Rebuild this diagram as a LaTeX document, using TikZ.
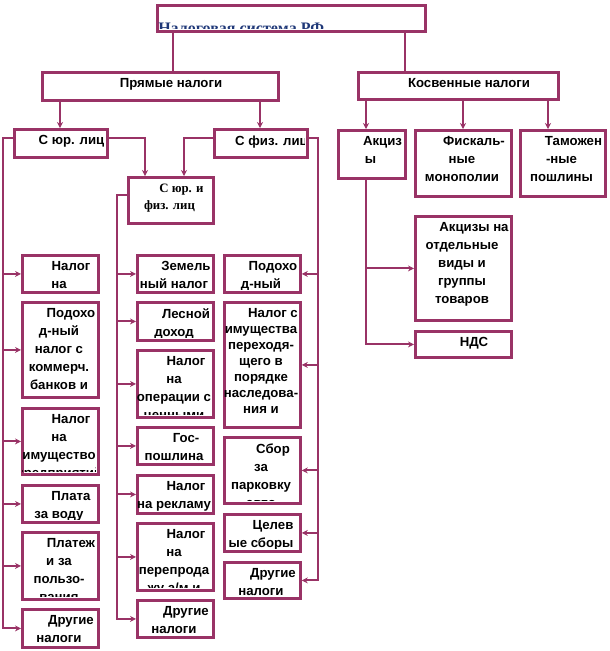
\documentclass[tikz,border=0pt]{standalone}
\usepackage{fontspec}
\setmainfont{Liberation Sans}
\newfontfamily\serifb{Liberation Serif}
\usetikzlibrary{arrows.meta,calc}
\definecolor{plum}{RGB}{153,51,102}
\definecolor{titleblue}{RGB}{31,56,120}
\newcommand\ind{\hspace*{18pt}}
\tikzset{
  boxst/.style={draw=plum, line width=2.1pt, fill=white, inner sep=0pt, rectangle},
  txt/.style={anchor=north, inner sep=0pt, align=center, text=black,
              font=\bfseries\fontsize{9.9pt}{13.5pt}\selectfont},
  conn/.style={draw=plum, line width=1.5pt},
  arr/.style={conn, -{Stealth[length=4.5pt,width=4.5pt]}}
}
% name, x1, y1, x2, y2, text
\newcommand\taxbox[7][]{%
  \node[boxst, minimum width={(#5-#3)*0.75pt}, minimum height={(#6-#4)*0.75pt}, anchor=north west] (#2) at (#3,#4) {};
  \begin{scope}
    \clip (#3+1.4,#4+1.4) rectangle (#5-1.4,#6-1.4);
    \node[txt,#1] at ({(#3+#5)/2},#4+7.5) {#7};
  \end{scope}
}
\begin{document}
\begin{tikzpicture}[x=0.75pt,y=-0.75pt]
\useasboundingbox (0,0) rectangle (610,651);
% title
\node[boxst, minimum width={268*0.75pt}, minimum height={26*0.75pt}, anchor=north west] (T) at (156,4) {};
\begin{scope}
  \clip (157.4,5.4) rectangle (422.6,28.6);
  \node[anchor=north west, inner sep=0pt, text=titleblue, font=\serifb\bfseries\fontsize{12pt}{14pt}\selectfont] (Tt) at (158,22.5) {Налоговая система РФ};
\end{scope}
% level 1
\taxbox{Pr}{41}{71}{277}{99}{\ind Прямые налоги}
\taxbox{Kos}{357}{71}{557}{98}{\ind Косвенные налоги}
% level 2
\taxbox{SU}{13}{128}{106}{156}{\ind С юр. лиц}
\taxbox{SF}{213}{128}{306}{156}{\ind С физ. лиц}
\taxbox[font=\serifb\bfseries\fontsize{9.6pt}{12.8pt}\selectfont]{SJ}{127}{176}{212}{222}{\ind С юр. и\\физ. лиц}
\taxbox{Akc}{337}{129}{404}{177}{\ind Акциз\\ы}
\taxbox{Fis}{414}{129}{510}{195}{\ind Фискаль-\\ные\\монополии}
\taxbox{Tam}{519}{129}{604}{195}{\ind Таможен\\-ные\\пошлины}
\taxbox{AO}{414}{215}{510}{319}{\ind Акцизы на\\отдельные\\виды и\\группы\\товаров}
\taxbox{NDS}{414}{330}{510}{356}{\ind НДС}
% left column
\taxbox{L1}{21}{254}{97}{291}{\ind Налог\\на}
\taxbox{L2}{21}{301}{97}{396}{\ind Подохо\\д-ный\\налог с\\коммерч.\\банков и}
\taxbox{L3}{21}{407}{97}{473}{\ind Налог\\на\\имущество\\предприятий}
\taxbox{L4}{21}{484}{97}{521}{\ind Плата\\за воду}
\taxbox{L5}{21}{531}{97}{598}{\ind Платеж\\и за\\пользо-\\вания}
\taxbox{L6}{21}{608}{97}{646}{\ind Другие\\налоги}
% middle column
\taxbox{M1}{136}{254}{212}{291}{\ind Земель\\ный налог}
\taxbox{M2}{136}{301}{212}{339}{\ind Лесной\\доход}
\taxbox{M3}{136}{349}{212}{416}{\ind Налог\\на\\операции с\\ценными}
\taxbox{M4}{136}{426}{212}{463}{\ind Гос-\\пошлина}
\taxbox{M5}{136}{474}{212}{512}{\ind Налог\\на рекламу}
\taxbox{M6}{136}{522}{212}{589}{\ind Налог\\на\\перепрода\\жу а/м и}
\taxbox{M7}{136}{599}{212}{636}{\ind Другие\\налоги}
% right column
\taxbox{R1}{223}{254}{299}{291}{\ind Подохо\\д-ный}
\taxbox[font=\bfseries\fontsize{9.9pt}{12pt}\selectfont]{R2}{223}{301}{299}{426}{\ind Налог с\\имущества\\переходя-\\щего в\\порядке\\наследова-\\ния и}
\taxbox{R3}{223}{436}{299}{502}{\ind Сбор\\за\\парковку\\авто}
\taxbox{R4}{223}{513}{299}{550}{\ind Целев\\ые сборы}
\taxbox{R5}{223}{561}{299}{597}{\ind Другие\\налоги}
% connectors from title
\coordinate (a1) at ($(T.south west)+(17,0)$);
\coordinate (a2) at ($(T.south west)+(249,0)$);
\draw[conn] (a1) -- (a1 |- Pr.north);
\draw[conn] (a2) -- (a2 |- Kos.north);
% Pr to SU, SF
\coordinate (p1) at ($(Pr.south west)+(19,0)$);
\coordinate (p2) at ($(Pr.south west)+(219,0)$);
\draw[arr] (p1) -- (p1 |- SU.north);
\draw[arr] (p2) -- (p2 |- SF.north);
% Kos to Akc, Fis, Tam
\coordinate (k1) at ($(Kos.south west)+(9,0)$);
\coordinate (k2) at ($(Kos.south west)+(106,0)$);
\coordinate (k3) at ($(Kos.south west)+(191,0)$);
\draw[arr] (k1) -- (k1 |- Akc.north);
\draw[arr] (k2) -- (k2 |- Fis.north);
\draw[arr] (k3) -- (k3 |- Tam.north);
% buses
\coordinate (busL) at (3,0);
\coordinate (busM) at (117,0);
\coordinate (busR) at (318,0);
\coordinate (sul) at ($(SU.north west)+(0,10)$);
\coordinate (sur) at ($(SU.north east)+(0,10)$);
\coordinate (sfl) at ($(SF.north west)+(0,10)$);
\coordinate (sfr) at ($(SF.north east)+(0,10)$);
\coordinate (sjl) at ($(SJ.north west)+(0,19)$);
\draw[arr] (sur) -| ($(SJ.north west)+(18,0)$);
\draw[arr] (sfl) -| ($(SJ.north west)+(57,0)$);
\draw[arr] (sul) -| (busL |- L6.west) -- (L6.west);
\foreach \b in {L1,L2,L3,L4,L5} \draw[arr] (busL |- \b.west) -- (\b.west);
\draw[arr] (sjl) -| (busM |- M7.west) -- (M7.west);
\foreach \b in {M1,M2,M3,M4,M5,M6} \draw[arr] (busM |- \b.west) -- (\b.west);
\draw[arr] (sfr) -| (busR |- R5.east) -- (R5.east);
\foreach \b in {R1,R2,R3,R4} \draw[arr] (busR |- \b.east) -- (\b.east);
% Akc sub
\coordinate (ak) at ($(Akc.south west)+(29,0)$);
\draw[arr] (ak) |- (NDS.west);
\draw[arr] (ak |- AO.west) -- (AO.west);
\end{tikzpicture}
\end{document}
